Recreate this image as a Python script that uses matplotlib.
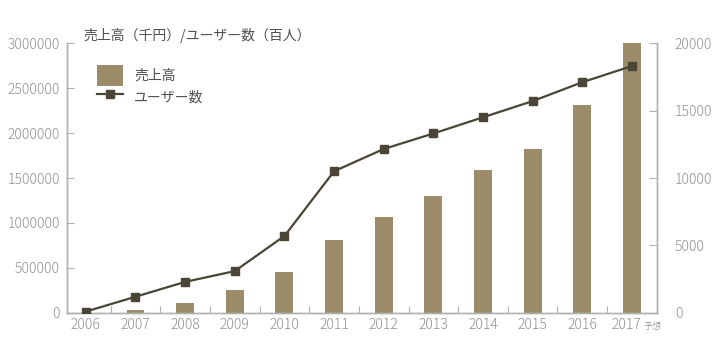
import matplotlib.pyplot as plt
import matplotlib.transforms as mtransforms
from matplotlib.ticker import StrMethodFormatter

plt.rcParams['font.family'] = ['Noto Sans CJK JP', 'DejaVu Sans']
plt.rcParams['font.weight'] = 'light'

# データ
years = ["2006", "2007", "2008", "2009", "2010", "2011",
         "2012", "2013", "2014", "2015", "2016", "2017"]
sales = [0, 30000, 110000, 260000, 460000, 810000,
         1065000, 1300000, 1590000, 1820000, 2310000, 3000000]
users = [100, 1200, 2300, 3100, 5700, 10500,
         12150, 13300, 14500, 15700, 17100, 18300]

bar_color = "#9c8c6a"
line_color = "#4a4536"
axis_color = "#b0b0b0"
text_color = "#8f8f8f"

fig = plt.figure(figsize=(7.17, 3.42), dpi=100)
ax = fig.add_axes([0.0934, 0.085, 0.8226, 0.789])
ax2 = ax.twinx()

x = list(range(len(years)))
bars = ax.bar(x, sales, width=0.36, color=bar_color, label="売上高", zorder=2)
ln, = ax2.plot(x, users, color=line_color, lw=1.6, marker="s", markersize=5.5,
               label="ユーザー数", zorder=3)

ax.set_xlim(-0.38, 11.5)
ax.set_ylim(0, 3000000)
ax2.set_ylim(0, 20000)
ax.set_yticks(range(0, 3000001, 500000))
ax2.set_yticks(range(0, 20001, 5000))
ax.yaxis.set_major_formatter(StrMethodFormatter("{x:.0f}"))
ax2.yaxis.set_major_formatter(StrMethodFormatter("{x:.0f}"))

# 軸の見た目
for a in (ax, ax2):
    a.spines["top"].set_visible(False)
    for s in ("left", "right", "bottom"):
        a.spines[s].set_color(axis_color)
        a.spines[s].set_linewidth(1.0)
ax.tick_params(axis="y", direction="in", length=5, color=axis_color,
               labelcolor=text_color, labelsize=10, pad=5)
ax2.tick_params(axis="y", direction="in", length=6, color=axis_color,
                labelcolor=text_color, labelsize=10, pad=13)

# x軸: 区切り目盛りと年ラベル
ax.set_xticks([i + 0.5 for i in range(len(years) - 1)])
ax.set_xticklabels([])
ax.tick_params(axis="x", direction="in", length=5, color=axis_color)
trans = mtransforms.blended_transform_factory(ax.transData, ax.transAxes)
for i, yr in enumerate(years[:-1]):
    ax.annotate(yr, xy=(i, 0), xycoords=trans, xytext=(0, -4),
                textcoords="offset points", ha="center", va="top",
                fontsize=10, color=text_color)
ax.annotate(years[-1], xy=(11, 0), xycoords=trans, xytext=(-4, -4),
            textcoords="offset points", ha="center", va="top",
            fontsize=10, color=text_color)
ax.annotate("予想", xy=(11, 0), xycoords=trans, xytext=(15, -6.5),
            textcoords="offset points", ha="center", va="top",
            fontsize=6.5, color=text_color)

# タイトル
fig.text(0.116, 0.897, "売上高（千円）/ユーザー数（百人）", fontsize=10,
         color="#505050", ha="left", va="center", fontweight="normal")

# 凡例
leg = ax.legend([bars, ln], ["売上高", "ユーザー数"], loc="upper left",
                bbox_to_anchor=(0.125, 0.83), bbox_transform=fig.transFigure,
                frameon=False, fontsize=10, handlelength=1.9, handleheight=1.9,
                labelspacing=0.1, handletextpad=0.8, borderpad=0)
for t in leg.get_texts():
    t.set_color("#505050")
    t.set_fontweight("normal")

fig.savefig("out.png", dpi=100)
